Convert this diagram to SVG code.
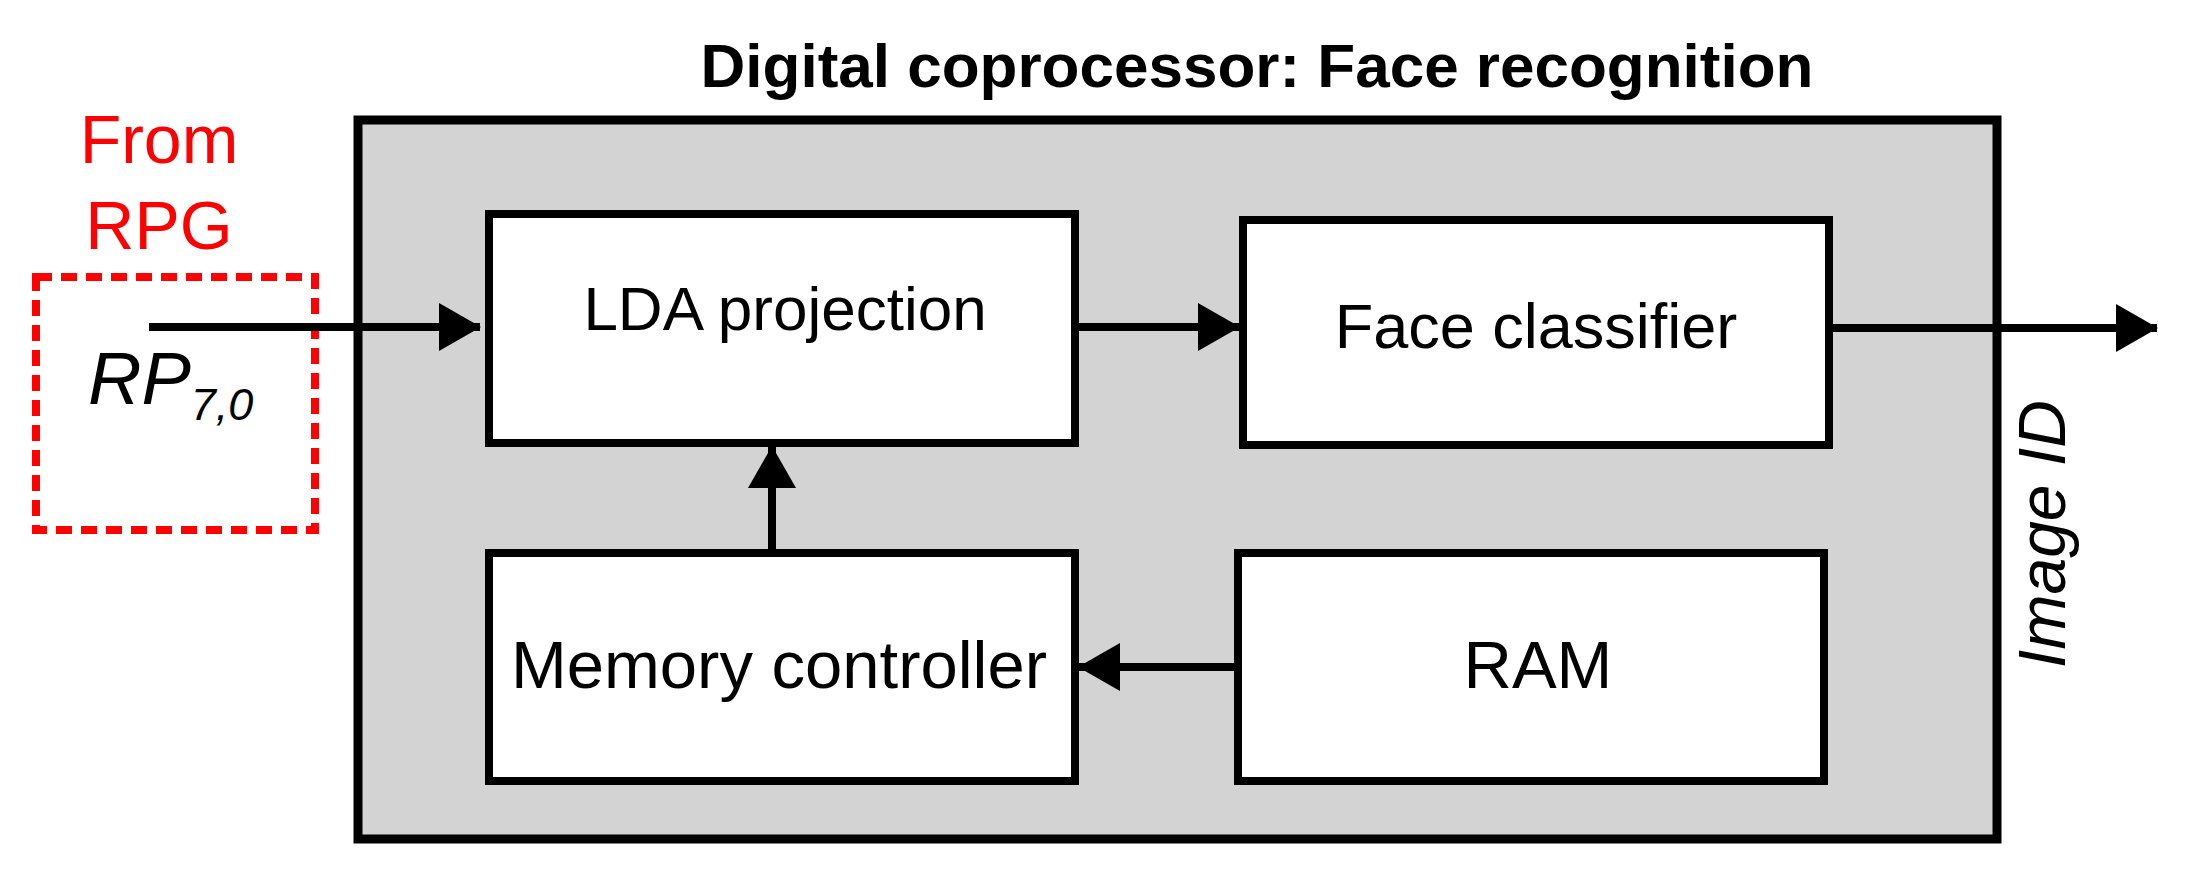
<svg xmlns="http://www.w3.org/2000/svg" width="2194" height="879" viewBox="0 0 2194 879">
<style>
.box{fill:#fff;stroke:#000;stroke-width:8}
.t{font-family:"Liberation Sans",Arial,sans-serif;fill:#000;text-anchor:middle}
.c{stroke:#000;stroke-width:8;fill:none}
</style>
<defs>
<marker id="ah" markerUnits="userSpaceOnUse" markerWidth="42" markerHeight="48" refX="41" refY="24" orient="auto">
<path d="M0,0 L42,24 L0,48 Z" fill="#000"/>
</marker>
</defs>
<rect width="2194" height="879" fill="#fff"/>
<g id="coprocessor">
<rect x="358" y="120" width="1639" height="719" fill="#d3d3d3" stroke="#000" stroke-width="9"/>
<text class="t" x="1257" y="87" font-size="62" font-weight="bold">Digital coprocessor: Face recognition</text>
</g>
<g id="rpg">
<rect x="36" y="277" width="279" height="253" fill="none" stroke="#ff0000" stroke-width="8" stroke-dasharray="16,9"/>
<text class="t" x="159" y="163" font-size="68" fill="#ff0000" style="fill:#ff0000">From</text>
<text class="t" x="159" y="249" font-size="68" style="fill:#ff0000">RPG</text>
<text x="88" y="404" font-family="Liberation Sans,Arial,sans-serif" font-size="74" font-style="italic">RP<tspan font-size="45" dy="16">7,0</tspan></text>
</g>
<g id="lda">
<rect class="box" x="489" y="214" width="586" height="229"/>
<text class="t" x="785" y="330" font-size="62">LDA projection</text>
</g>
<g id="face">
<rect class="box" x="1243" y="220" width="586" height="225"/>
<text class="t" x="1536" y="348" font-size="63">Face classifier</text>
</g>
<g id="mem">
<rect class="box" x="489" y="553" width="586" height="228"/>
<text class="t" x="779" y="688" font-size="67">Memory controller</text>
</g>
<g id="ram">
<rect class="box" x="1238" y="553" width="586" height="228"/>
<text class="t" x="1538" y="688" font-size="67">RAM</text>
</g>
<g id="imageid">
<text class="t" transform="translate(2065,534) rotate(-90)" font-size="66" font-style="italic">Image ID</text>
</g>
<g id="connectors">
<line class="c" x1="149" y1="327" x2="480" y2="327" marker-end="url(#ah)"/>
<line class="c" x1="1078" y1="327" x2="1239" y2="327" marker-end="url(#ah)"/>
<line class="c" x1="1832" y1="328" x2="2157" y2="328" marker-end="url(#ah)"/>
<line class="c" x1="772" y1="549" x2="772" y2="447" marker-end="url(#ah)"/>
<line class="c" x1="1234" y1="667" x2="1079" y2="667" marker-end="url(#ah)"/>
</g>
</svg>
